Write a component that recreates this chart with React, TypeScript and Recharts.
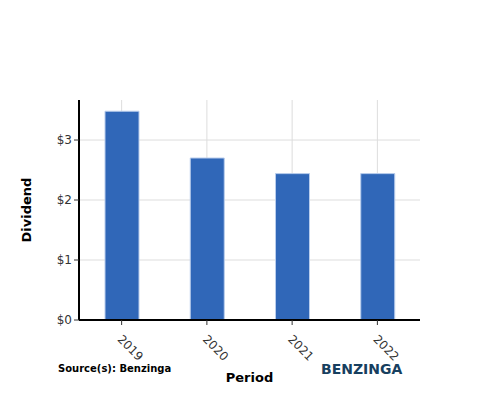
import { BarChart, Bar, XAxis, YAxis, CartesianGrid } from 'recharts';

const periods = ['2019', '2020', '2021', '2022'];
const dividends = [3.48, 2.7, 2.44, 2.44];
const yTicks = [0, 1, 2, 3];

const chartData = periods.map((period, i) => ({ period, dividend: dividends[i] }));

const FONT = '"DejaVu Sans", sans-serif';

function RotatedTick(props: any) {
  const { x, y, payload } = props;
  const ax = x - 2;
  const ay = y + 10;
  return (
    <text
      x={ax}
      y={ay}
      dy="0.35em"
      transform={`rotate(45, ${ax}, ${ay})`}
      textAnchor="start"
      fontSize={12}
      fontFamily={FONT}
      fill="#333"
    >
      {payload.value}
    </text>
  );
}

export default function App() {
  return (
    <div style={{ position: 'absolute', left: 0, top: 0, width: 500, height: 400, background: '#fff' }}>
      <BarChart
        width={500}
        height={400}
        data={chartData}
        margin={{ top: 100, right: 80, bottom: 0, left: 19 }}
      >
        <CartesianGrid
          stroke="#dddddd"
          strokeWidth={1}
          horizontalValues={yTicks}
          verticalValues={periods}
        />
        <XAxis
          dataKey="period"
          height={80}
          tick={<RotatedTick />}
          tickSize={5}
          tickLine={{ stroke: '#333' }}
          axisLine={{ stroke: '#000', strokeWidth: 2 }}
          interval={0}
          label={{
            content: ({ viewBox }: any) => (
              <text
                x={viewBox.x + viewBox.width / 2}
                y={382}
                textAnchor="middle"
                fontSize={13}
                fontWeight="bold"
                fontFamily={FONT}
                fill="#000"
              >
                Period
              </text>
            ),
          }}
        />
        <YAxis
          width={60}
          domain={[0, 3.667]}
          ticks={yTicks}
          tickFormatter={(v: number) => `$${v}`}
          tickSize={5}
          tickLine={{ stroke: '#333' }}
          tick={{ fontSize: 12, fontFamily: FONT, fill: '#333' }}
          axisLine={{ stroke: '#000', strokeWidth: 2 }}
          label={{
            content: ({ viewBox }: any) => {
              const cx = 31;
              const cy = viewBox.y + viewBox.height / 2;
              return (
                <text
                  x={cx}
                  y={cy}
                  transform={`rotate(-90, ${cx}, ${cy})`}
                  textAnchor="middle"
                  fontSize={13}
                  fontWeight="bold"
                  fontFamily={FONT}
                  fill="#000"
                >
                  Dividend
                </text>
              );
            },
          }}
        />
        <Bar
          dataKey="dividend"
          barSize={34}
          fill="#3067b8"
          stroke="#b9cdec"
          strokeWidth={1}
          isAnimationActive={false}
        />
      </BarChart>
      <div
        style={{
          position: 'absolute',
          left: 58,
          top: 363,
          fontSize: 10,
          fontWeight: 'bold',
          fontFamily: FONT,
          color: '#000',
          whiteSpace: 'nowrap',
        }}
      >
        Source(s): Benzinga
      </div>
      <div
        style={{
          position: 'absolute',
          left: 321,
          top: 361,
          fontSize: 14,
          fontWeight: 'bold',
          fontFamily: FONT,
          color: '#173f5f',
          whiteSpace: 'nowrap',
        }}
      >
        BENZINGA
      </div>
    </div>
  );
}
